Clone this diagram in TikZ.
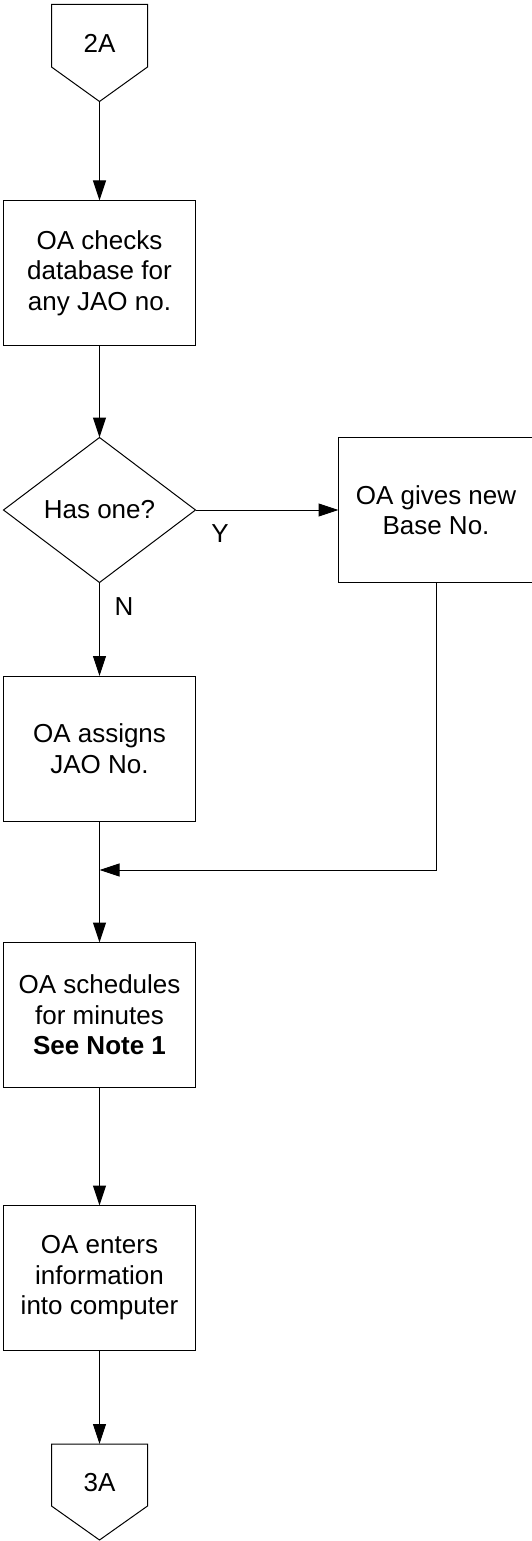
\documentclass[tikz,border=0pt]{standalone}
\usepackage{fontspec}
\setmainfont{Liberation Sans}
\usetikzlibrary{arrows.meta,shapes.geometric,calc}
\begin{document}
\begin{tikzpicture}[x=1pt,y=-1pt,
  every node/.style={font=\fontsize{26pt}{30.5pt}\selectfont, inner sep=0pt, outer sep=0pt},
  flow/.style={draw, line width=1pt, rectangle, minimum width=192pt, minimum height=145pt, align=center},
  decision/.style={draw, line width=1pt, diamond, minimum width=192pt, minimum height=145pt, aspect=1.32},
  link/.style={line width=1pt, -{Triangle[length=20pt,width=13pt]}},
  offpage/.style={line width=1pt, line join=miter}]
\useasboundingbox (0,0) rectangle (531,1541);

% incoming off-page connector
\coordinate (top2A) at (99.5,4.5);
\draw[offpage] ($(top2A)+(-48,0)$) -- ++(96,0) -- ++(0,62.5) -- ++(-48,34.5) coordinate (tip2A) -- ++(-48,-34.5) -- cycle;
\node (l2A) at (99.5,43) {2A};

% process steps
\node[flow] (check) at (99.5,273) {OA checks\\database for\\any JAO no.};
\node[decision] (has) at (99.5,510) {Has one?};
\node[flow, minimum width=195pt] (base) at (436,510) {OA gives new\\Base No.};
\node[flow] (assign) at (99.5,748.5) {OA assigns\\JAO No.};
\node[flow] (sched) at (99.5,1015) {OA schedules\\for minutes\\\textbf{See Note 1}};
\node[flow] (enter) at (99.5,1278) {OA enters\\information\\into computer};

% outgoing off-page connector
\coordinate (top3A) at (99.5,1444);
\draw[offpage] ($(top3A)+(-48,0)$) -- ++(96,0) -- ++(0,62) -- ++(-48,34) coordinate (tip3A) -- ++(-48,-34) -- cycle;
\node (l3A) at (99.5,1483) {3A};

% branch labels
\node (ylab) at (220,534) {Y};
\node (nlab) at (124,607) {N};

% connectors
\coordinate (merge) at (99.5,870);
\draw[link] (tip2A) -- (check.north);
\draw[link] (check.south) -- (has.north);
\draw[link] (has.east) -- (base.west);
\draw[link] (has.south) -- (assign.north);
\draw[link] (assign.south) -- (sched.north);
\draw[link] (base.south) |- (merge);
\draw[link] (sched.south) -- (enter.north);
\draw[link] (enter.south) -- (top3A);
\end{tikzpicture}
\end{document}
